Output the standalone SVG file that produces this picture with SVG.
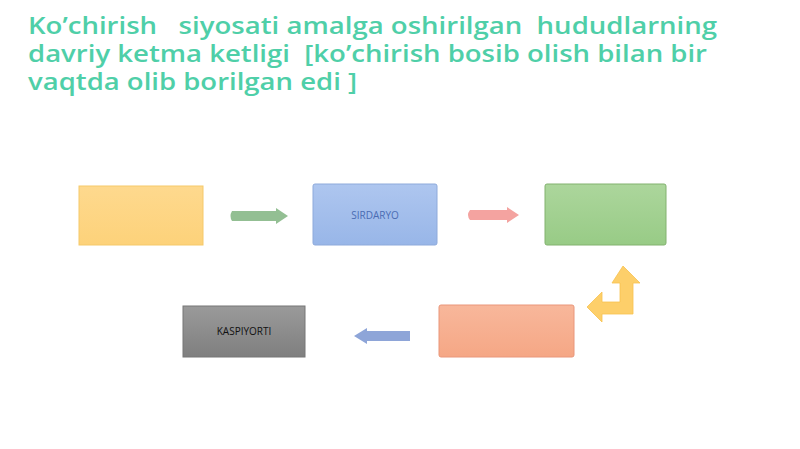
<svg xmlns="http://www.w3.org/2000/svg" width="800" height="449" viewBox="0 0 800 449">
<style>
.title{font-family:"Open Sans","Noto Sans",sans-serif;font-weight:600;font-size:24px;fill:#4fcfa8;white-space:pre}
.lbl{font-family:"Open Sans","Liberation Sans",sans-serif;font-size:10px;text-anchor:middle;dominant-baseline:central}
</style>
<defs>
<linearGradient id="gy" x1="0" y1="0" x2="0" y2="1"><stop offset="0" stop-color="#fed98e"/><stop offset="1" stop-color="#fdd27a"/></linearGradient>
<linearGradient id="gb" x1="0" y1="0" x2="0" y2="1"><stop offset="0" stop-color="#aec6ef"/><stop offset="1" stop-color="#98b6e8"/></linearGradient>
<linearGradient id="gg" x1="0" y1="0" x2="0" y2="1"><stop offset="0" stop-color="#acd69c"/><stop offset="1" stop-color="#98cb86"/></linearGradient>
<linearGradient id="gs" x1="0" y1="0" x2="0" y2="1"><stop offset="0" stop-color="#f8b79b"/><stop offset="1" stop-color="#f5a785"/></linearGradient>
<linearGradient id="gk" x1="0" y1="0" x2="0" y2="1"><stop offset="0" stop-color="#9a9a9a"/><stop offset="1" stop-color="#7f7f7f"/></linearGradient>
</defs>
<rect width="800" height="449" fill="#ffffff"/>
<g id="title">
<text class="title" x="28" y="34" xml:space="preserve" textLength="689" lengthAdjust="spacingAndGlyphs">Ko’chirish   siyosati amalga oshirilgan  hududlarning</text>
<text class="title" x="28" y="62" xml:space="preserve" textLength="679" lengthAdjust="spacingAndGlyphs">davriy ketma ketligi  [ko’chirish bosib olish bilan bir</text>
<text class="title" x="28" y="90" xml:space="preserve" textLength="329" lengthAdjust="spacingAndGlyphs">vaqtda olib borilgan edi ]</text>
</g>
<g id="node-yellow"><rect x="79" y="186" width="124" height="59" fill="url(#gy)" stroke="#f5c96a" stroke-width="1"/></g>
<g id="node-sirdaryo"><rect x="313" y="184" width="124" height="61" rx="2" fill="url(#gb)" stroke="#8eaadb" stroke-width="1"/><text class="lbl" x="375" y="215" fill="#4a6cb3">SIRDARYO</text></g>
<g id="node-green"><rect x="545" y="184" width="121" height="61" rx="2" fill="url(#gg)" stroke="#82b26f" stroke-width="1"/></g>
<g id="node-salmon"><rect x="439" y="305" width="135" height="52" rx="2" fill="url(#gs)" stroke="#e9967a" stroke-width="1"/></g>
<g id="node-kaspiyorti"><rect x="183" y="306" width="122" height="51" fill="url(#gk)" stroke="#777777" stroke-width="1"/><text class="lbl" x="244" y="331" fill="#111111">KASPIYORTI</text></g>
<g id="connectors">
<path d="M232,211 H276 V208 L288,216 L276,224 V221 H232 Q229,216 232,211 Z" fill="#93bf93"/>
<path d="M470,210 H507 V207 L519,215 L507,223 V220 H470 Q466,215 470,210 Z" fill="#f4a3a0"/>
<path d="M410,331 H367 V328 L354,336 L367,344 V341 H410 Z" fill="#8ea5d8"/>
<path d="M623,266 L640,283 L633,283 L633,314 L602,314 L602,322 L587,307 L602,292 L602,302 L620,302 L620,283 L612,283 Z" fill="#fdcf6a" stroke="#f8c24f" stroke-width="0.8" stroke-linejoin="round"/>
</g>
</svg>
